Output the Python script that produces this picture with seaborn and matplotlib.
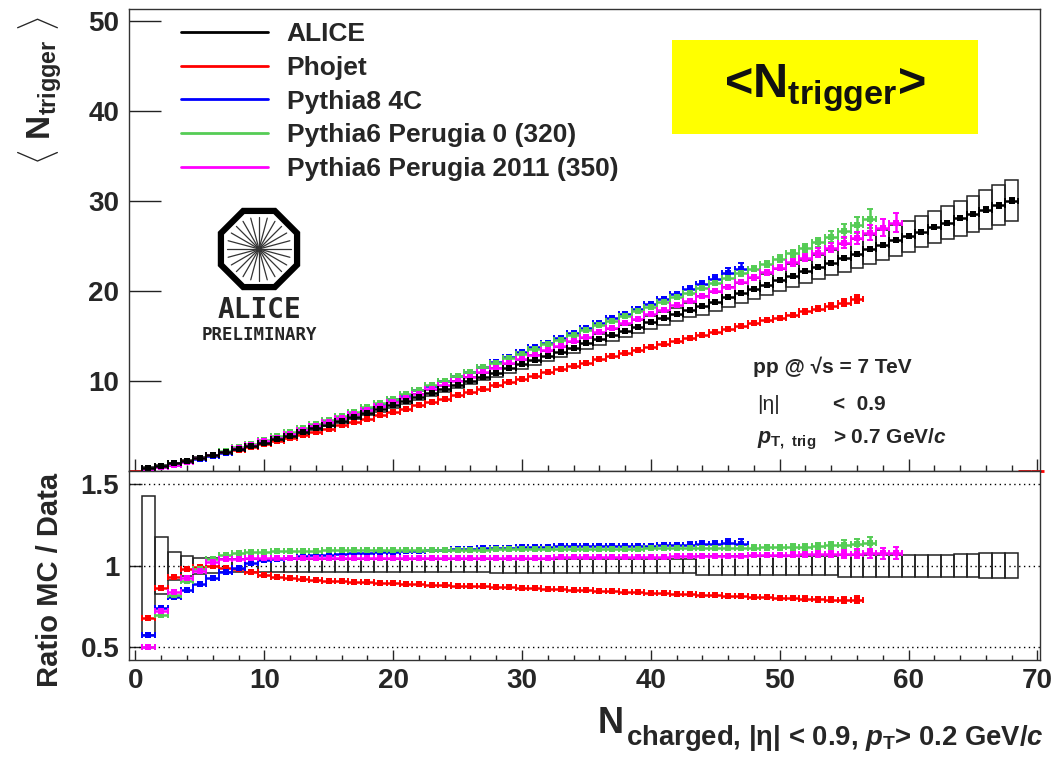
import numpy as np
import seaborn as sns
import matplotlib.pyplot as plt
from matplotlib.lines import Line2D
from matplotlib.patches import Rectangle, RegularPolygon
from matplotlib.ticker import MultipleLocator


# <N_trigger> measured by ALICE, bins N_charged = 1..68
alice_mean = [
    0.30, 0.57, 0.85, 1.14, 1.44, 1.75, 2.08, 2.43, 2.79, 3.16,
    3.54, 3.93, 4.33, 4.74, 5.16, 5.58, 6.01, 6.44, 6.88, 7.32,
    7.76, 8.21, 8.66, 9.11, 9.56, 10.01, 10.47, 10.93, 11.39, 11.85,
    12.31, 12.77, 13.24, 13.71, 14.18, 14.65, 15.12, 15.58, 16.04, 16.50,
    16.96, 17.42, 17.88, 18.35, 18.82, 19.29, 19.76, 20.23, 20.70, 21.19,
    21.68, 22.17, 22.66, 23.15, 23.64, 24.13, 24.62, 25.11, 25.60, 26.09,
    26.58, 27.07, 27.56, 28.05, 28.54, 29.03, 29.52, 30.01]
alice_stat = [
    0.01, 0.01, 0.01, 0.01, 0.01, 0.01, 0.01, 0.01, 0.01, 0.01,
    0.01, 0.01, 0.01, 0.01, 0.01, 0.01, 0.01, 0.01, 0.01, 0.01,
    0.01, 0.01, 0.01, 0.01, 0.01, 0.01, 0.01, 0.01, 0.01, 0.01,
    0.02, 0.02, 0.02, 0.02, 0.02, 0.02, 0.02, 0.02, 0.02, 0.02,
    0.03, 0.03, 0.04, 0.04, 0.05, 0.05, 0.06, 0.06, 0.07, 0.08,
    0.08, 0.09, 0.10, 0.11, 0.12, 0.13, 0.14, 0.15, 0.16, 0.17,
    0.18, 0.19, 0.21, 0.22, 0.24, 0.26, 0.28, 0.30]
# relative systematic uncertainty (half height of the boxes)
alice_syst = [
    0.427, 0.176, 0.087, 0.060, 0.050, 0.045, 0.040, 0.040, 0.040, 0.040,
    0.040, 0.040, 0.040, 0.040, 0.040, 0.040, 0.040, 0.040, 0.040, 0.040,
    0.040, 0.040, 0.040, 0.040, 0.040, 0.040, 0.040, 0.042, 0.042, 0.042,
    0.042, 0.042, 0.042, 0.042, 0.042, 0.042, 0.042, 0.042, 0.042, 0.042,
    0.042, 0.042, 0.042, 0.058, 0.058, 0.058, 0.058, 0.058, 0.058, 0.058,
    0.058, 0.058, 0.058, 0.058, 0.066, 0.066, 0.066, 0.066, 0.066, 0.066,
    0.066, 0.066, 0.066, 0.070, 0.070, 0.076, 0.076, 0.076]

# MC / data ratios (lower panel)
phojet_ratio = [
    0.680, 0.865, 0.933, 0.980, 0.994, 1.000, 0.988, 0.978, 0.960, 0.943,
    0.933, 0.925, 0.918, 0.912, 0.909, 0.906, 0.903, 0.900, 0.897, 0.894,
    0.891, 0.889, 0.885, 0.883, 0.879, 0.876, 0.874, 0.870, 0.868, 0.864,
    0.861, 0.859, 0.855, 0.852, 0.849, 0.847, 0.843, 0.841, 0.837, 0.834,
    0.832, 0.828, 0.826, 0.822, 0.820, 0.816, 0.814, 0.810, 0.808, 0.804,
    0.801, 0.799, 0.795, 0.793, 0.790, 0.792]
pythia8_ratio = [
    0.576, 0.743, 0.807, 0.850, 0.888, 0.927, 0.963, 0.988, 1.015, 1.035,
    1.040, 1.045, 1.059, 1.065, 1.068, 1.072, 1.076, 1.079, 1.083, 1.086,
    1.089, 1.092, 1.095, 1.098, 1.100, 1.103, 1.106, 1.108, 1.111, 1.113,
    1.115, 1.117, 1.118, 1.120, 1.120, 1.121, 1.122, 1.121, 1.123, 1.122,
    1.124, 1.126, 1.128, 1.131, 1.133, 1.140, 1.136]
perugia0_ratio = [
    0.500, 0.700, 0.820, 0.906, 0.980, 1.039, 1.065, 1.076, 1.082, 1.086,
    1.090, 1.092, 1.093, 1.093, 1.094, 1.094, 1.095, 1.095, 1.096, 1.096,
    1.097, 1.097, 1.097, 1.098, 1.098, 1.099, 1.099, 1.100, 1.100, 1.100,
    1.101, 1.101, 1.102, 1.102, 1.103, 1.103, 1.104, 1.104, 1.105, 1.106,
    1.106, 1.107, 1.107, 1.108, 1.109, 1.109, 1.110, 1.111, 1.112, 1.113,
    1.115, 1.117, 1.120, 1.124, 1.128, 1.132, 1.137]
perugia2011_ratio = [
    0.500, 0.720, 0.837, 0.923, 0.970, 1.025, 1.039, 1.039, 1.045, 1.045,
    1.046, 1.046, 1.046, 1.046, 1.046, 1.046, 1.046, 1.046, 1.046, 1.046,
    1.046, 1.047, 1.047, 1.047, 1.047, 1.047, 1.048, 1.048, 1.048, 1.049,
    1.050, 1.050, 1.051, 1.051, 1.052, 1.052, 1.053, 1.053, 1.054, 1.055,
    1.056, 1.057, 1.058, 1.059, 1.060, 1.061, 1.062, 1.063, 1.065, 1.066,
    1.068, 1.069, 1.070, 1.072, 1.073, 1.074, 1.075, 1.076, 1.077]

# relative statistical errors of the MC ratios
phojet_err = [
    0.004, 0.004, 0.004, 0.004, 0.004, 0.004, 0.004, 0.004, 0.004, 0.004,
    0.004, 0.004, 0.004, 0.004, 0.004, 0.004, 0.004, 0.004, 0.004, 0.004,
    0.004, 0.004, 0.004, 0.004, 0.004, 0.004, 0.004, 0.004, 0.004, 0.004,
    0.005, 0.005, 0.005, 0.005, 0.005, 0.005, 0.005, 0.006, 0.006, 0.006,
    0.006, 0.007, 0.007, 0.007, 0.008, 0.008, 0.009, 0.010, 0.011, 0.012,
    0.013, 0.014, 0.016, 0.018, 0.020, 0.022]
pythia8_err = [
    0.004, 0.004, 0.004, 0.004, 0.004, 0.004, 0.004, 0.004, 0.004, 0.004,
    0.004, 0.004, 0.004, 0.004, 0.004, 0.004, 0.004, 0.004, 0.004, 0.004,
    0.004, 0.004, 0.004, 0.005, 0.005, 0.005, 0.005, 0.006, 0.006, 0.006,
    0.007, 0.007, 0.008, 0.008, 0.009, 0.010, 0.010, 0.011, 0.012, 0.013,
    0.014, 0.016, 0.017, 0.019, 0.021, 0.024, 0.027]
perugia0_err = [
    0.004, 0.004, 0.004, 0.004, 0.004, 0.004, 0.004, 0.004, 0.004, 0.004,
    0.004, 0.004, 0.004, 0.004, 0.004, 0.004, 0.004, 0.004, 0.004, 0.004,
    0.004, 0.004, 0.004, 0.004, 0.004, 0.004, 0.004, 0.004, 0.004, 0.004,
    0.005, 0.005, 0.005, 0.005, 0.005, 0.006, 0.006, 0.006, 0.007, 0.007,
    0.008, 0.008, 0.009, 0.009, 0.010, 0.011, 0.012, 0.013, 0.014, 0.015,
    0.017, 0.019, 0.021, 0.024, 0.028, 0.033, 0.038]
perugia2011_err = [
    0.004, 0.004, 0.004, 0.004, 0.004, 0.004, 0.004, 0.004, 0.004, 0.004,
    0.004, 0.004, 0.004, 0.004, 0.004, 0.004, 0.004, 0.004, 0.004, 0.004,
    0.004, 0.004, 0.004, 0.004, 0.004, 0.004, 0.004, 0.004, 0.004, 0.004,
    0.005, 0.005, 0.005, 0.005, 0.005, 0.005, 0.006, 0.006, 0.006, 0.007,
    0.007, 0.008, 0.008, 0.009, 0.009, 0.010, 0.011, 0.012, 0.013, 0.014,
    0.015, 0.017, 0.019, 0.021, 0.023, 0.026, 0.030, 0.034, 0.038]

mc_labels = ['Phojet', 'Pythia8 4C', 'Pythia6 Perugia 0 (320)', 'Pythia6 Perugia 2011 (350)']
mc_colors = ['#ff0000', '#0000ff', '#55cc55', '#ff00ff']
mc_ratios = [phojet_ratio, pythia8_ratio, perugia0_ratio, perugia2011_ratio]
mc_errors = [phojet_err, pythia8_err, perugia0_err, perugia2011_err]
phojet_empty_bins = [0, 69, 70]

y_ticks_top = [10, 20, 30, 40, 50]
y_ticks_ratio = [0.5, 1.0, 1.5]
y_ticklabels_ratio = ['0.5', '1', '1.5']


sns.set_style('ticks')
plt.rcParams['font.family'] = ['Liberation Sans', 'DejaVu Sans']
plt.rcParams['font.weight'] = 'bold'
plt.rcParams['mathtext.fontset'] = 'custom'
plt.rcParams['mathtext.rm'] = 'Liberation Sans:bold'
plt.rcParams['mathtext.bf'] = 'Liberation Sans:bold'
plt.rcParams['mathtext.it'] = 'Liberation Sans:italic:bold'
plt.rcParams['axes.linewidth'] = 1.0
plt.rcParams['axes.edgecolor'] = '#333333'

W_PX, H_PX = 1051, 760
fig = plt.figure(figsize=(W_PX / 100, H_PX / 100), dpi=100)


def fx(x):
    return x / W_PX


def fy(y):
    return 1 - y / H_PX


ax1 = fig.add_axes([fx(129), fy(471), fx(1040 - 129), (471 - 9) / H_PX])
ax2 = fig.add_axes([fx(129), fy(660), fx(1040 - 129), (660 - 471) / H_PX], sharex=ax1)

alice_mean = np.array(alice_mean)
n_alice = np.arange(1, len(alice_mean) + 1)
syst = np.array(alice_syst)


def draw_points(ax, n, y, err, color, z):
    ax.errorbar(n, y, xerr=0.5, yerr=err, fmt='none', ecolor=color,
                elinewidth=1.8, capsize=2, capthick=1.4, zorder=z)
    sns.scatterplot(x=n, y=y, ax=ax, color=color, marker='s', s=14,
                    linewidth=0, legend=False, zorder=z + 0.1)


# upper panel: systematic boxes, MC, data
ax1.bar(n_alice, 2 * syst * alice_mean, bottom=alice_mean * (1 - syst), width=1.0,
        fill=False, edgecolor='#222222', linewidth=1.1, zorder=2)
ax1.hlines([0] * len(phojet_empty_bins), np.array(phojet_empty_bins) - 0.5,
           np.array(phojet_empty_bins) + 0.5, color='#ff0000', lw=2, clip_on=False, zorder=1)
order = [0, 3, 2, 1]
for i in order:
    r = np.array(mc_ratios[i])
    n = np.arange(1, len(r) + 1)
    vals = r * alice_mean[:len(r)]
    draw_points(ax1, n, vals, np.array(mc_errors[i]) * vals, mc_colors[i], 3 + i * 0.2)
draw_points(ax1, n_alice, alice_mean, alice_stat, 'black', 5)

# lower panel: ratios
ax2.bar(n_alice, 2 * syst, bottom=1 - syst, width=1.0, fill=False,
        edgecolor='#222222', linewidth=1.1, zorder=2)
for yv in y_ticks_ratio:
    ax2.axhline(yv, color='black', lw=1, ls=(0, (1, 2.5)), zorder=1)
for i in order:
    r = np.array(mc_ratios[i])
    n = np.arange(1, len(r) + 1)
    draw_points(ax2, n, r, mc_errors[i], mc_colors[i], 3 + i * 0.2)

# axes setup
ax1.set_xlim(-0.5, 70.2)
ax1.set_ylim(0, 51.3)
ax2.set_ylim(0.423, 1.58)
ax1.set_yticks(y_ticks_top)
ax2.set_yticks(y_ticks_ratio)
ax2.set_yticklabels(y_ticklabels_ratio)
ax2.xaxis.set_major_locator(MultipleLocator(10))
ax2.xaxis.set_minor_locator(MultipleLocator(2))
for ax in (ax1, ax2):
    ax.set_xlabel('')
    ax.set_ylabel('')
    for s in ax.spines.values():
        s.set_visible(True)
        s.set_color('#333333')
ax1.tick_params(axis='y', direction='in', length=23, width=1, labelsize=20, pad=7, color='#222222')
ax1.tick_params(axis='x', which='major', direction='in', length=8.5, width=1, labelbottom=False)
ax1.tick_params(axis='x', which='minor', direction='in', length=4.5, width=1)
ax2.tick_params(axis='y', direction='in', length=9, width=1, labelsize=20, pad=7)
ax2.tick_params(axis='x', which='major', direction='in', length=7.5, width=1, labelsize=20, pad=6)
ax2.tick_params(axis='x', which='minor', direction='in', length=3.6, width=1)

# axis titles
fig.text(fx(40), fy(90), r'$\langle\ \mathbf{N}_{\mathbf{trigger}}\ \rangle$', rotation=90,
         ha='center', va='center', fontsize=24)
fig.text(fx(50), fy(580), 'Ratio MC / Data', rotation=90, ha='center', va='center',
         fontsize=21, fontweight='bold')
fig.text(fx(624), fy(733), 'N', ha='right', va='baseline', fontsize=26, fontweight='bold')
fig.text(fx(626), fy(745), r'charged, |η| < 0.9, $p_{\mathrm{T}}$> 0.2 GeV/$c$',
         ha='left', va='baseline', fontsize=19.8, fontweight='bold')

# legend
handles = [Line2D([], [], color='black', lw=2)] + [Line2D([], [], color=c, lw=2) for c in mc_colors]
labels = ['ALICE'] + mc_labels
fig.legend(handles, labels, loc='upper left', bbox_to_anchor=(fx(181), fy(22)),
           bbox_transform=fig.transFigure, frameon=False, borderpad=0, borderaxespad=0,
           handlelength=3.3, handletextpad=0.7, labelspacing=0.37,
           prop={'weight': 'bold', 'size': 19})

# yellow title box
fig.patches.append(Rectangle((fx(672), fy(134)), fx(306), 94 / H_PX, transform=fig.transFigure,
                             facecolor='#ffff00', edgecolor='none', zorder=5))
fig.text(fx(825), fy(97), r'<N$_{\mathbf{trigger}}$>', ha='center', va='baseline',
         fontsize=35, fontweight='bold', color='#111111', zorder=6)

# conditions
fig.text(fx(753), fy(373), 'pp @ √s = 7 TeV', ha='left', va='baseline', fontsize=15,
         fontweight='bold')
fig.text(fx(757), fy(410), '|η|', ha='left', va='baseline', fontsize=15, fontweight='normal')
fig.text(fx(833), fy(410), '<  0.9', ha='left', va='baseline', fontsize=15, fontweight='bold')
fig.text(fx(757), fy(443), r'$p_{\mathrm{T,\ trig}}$', ha='left', va='baseline', fontsize=15.5)
fig.text(fx(833), fy(443), r'> 0.7 GeV/$c$', ha='left', va='baseline', fontsize=15,
         fontweight='bold')

# ALICE preliminary logo
logo = fig.add_axes([fx(259 - 45), fy(249 + 45), fx(90), 90 / H_PX])
logo.set_xlim(-1.07, 1.07)
logo.set_ylim(-1.07, 1.07)
logo.set_aspect('equal')
logo.axis('off')
logo.add_patch(RegularPolygon((0, 0), 8, radius=0.98, orientation=np.pi / 8,
                              facecolor='white', edgecolor='black', linewidth=4.5))
for a in np.linspace(0, np.pi, 13)[:-1]:
    logo.plot([-0.76 * np.cos(a), 0.76 * np.cos(a)], [-0.76 * np.sin(a), 0.76 * np.sin(a)],
              color='#333333', lw=0.9)
fig.text(fx(259), fy(318), 'ALICE', ha='center', va='baseline', fontsize=20,
         family='DejaVu Sans Mono', fontweight='bold')
fig.text(fx(259), fy(340), 'PRELIMINARY', ha='center', va='baseline', fontsize=12.5,
         family='DejaVu Sans Mono', fontweight='bold')

fig.savefig('out.png', dpi=100)
